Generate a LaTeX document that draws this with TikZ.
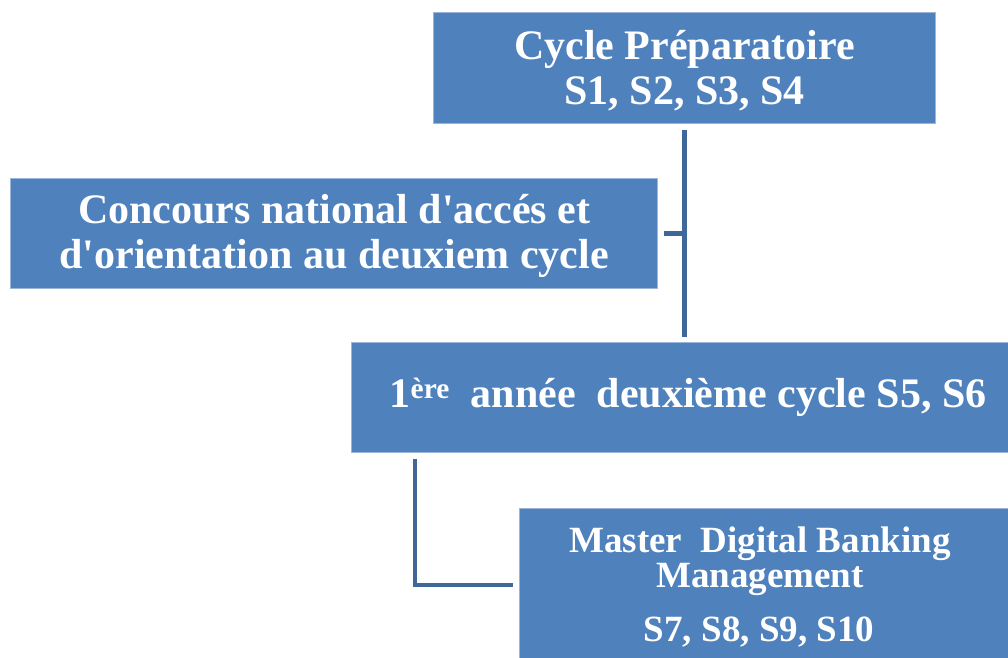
\documentclass[tikz,border=0pt]{standalone}
\usepackage{fontspec}
\setmainfont{Liberation Serif}[Ligatures=TeXOff]
\definecolor{boxfill}{HTML}{4F81BD}
\definecolor{boxedge}{HTML}{9DB5D8}
\definecolor{linecol}{HTML}{3F6899}
\begin{document}
\begin{tikzpicture}[x=1pt,y=-1pt,
  box/.style={draw=boxedge,line width=1.2pt,fill=boxfill,anchor=north west,inner sep=0pt,
    text=white,font=\fontsize{42}{45}\selectfont\bfseries,align=center},
  boxtext/.style={text=white,inner sep=0pt,align=center,anchor=base,
    font=\fontsize{37}{38}\selectfont\bfseries},
  conn/.style={draw=linecol,line width=5pt,line cap=butt,line join=miter}]
\useasboundingbox (0,0) rectangle (1008,657);
\node[box,minimum width=502pt,minimum height=111pt] (box1) at (433,12)
  {\rule{0pt}{34pt}Cycle Préparatoire\\S1, S2, S3, S4};
\node[box,minimum width=647pt,minimum height=110pt] (box2) at (10,178)
  {\rule{0pt}{34pt}Concours national d'accés et\\d'orientation au deuxiem cycle};
\node[box,minimum width=660pt,minimum height=110pt] (box3) at (351,342)
  {\hspace*{13pt}1\textsuperscript{ère}\ \ année\ \ deuxième cycle S5, S6};
\node[box,minimum width=495pt,minimum height=160pt] (box4) at (519,508) {};
\node[boxtext] (box4t1) at (760,552) {Master\ \ Digital Banking};
\node[boxtext] (box4t2) at (760,587) {Management};
\node[boxtext] (box4t3) at (759,641) {S7, S8, S9, S10};
\draw[conn] ([yshift=-6pt]box1.south) -- ([yshift=5pt]box1.south |- box3.north);
\draw[conn] ([xshift=6pt]box2.east) -- (box2.east -| box1.south);
\coordinate (t2) at (415,459);
\coordinate (e2) at (513,585);
\draw[conn,line width=4.5pt] (t2) |- (e2);
\end{tikzpicture}
\end{document}
